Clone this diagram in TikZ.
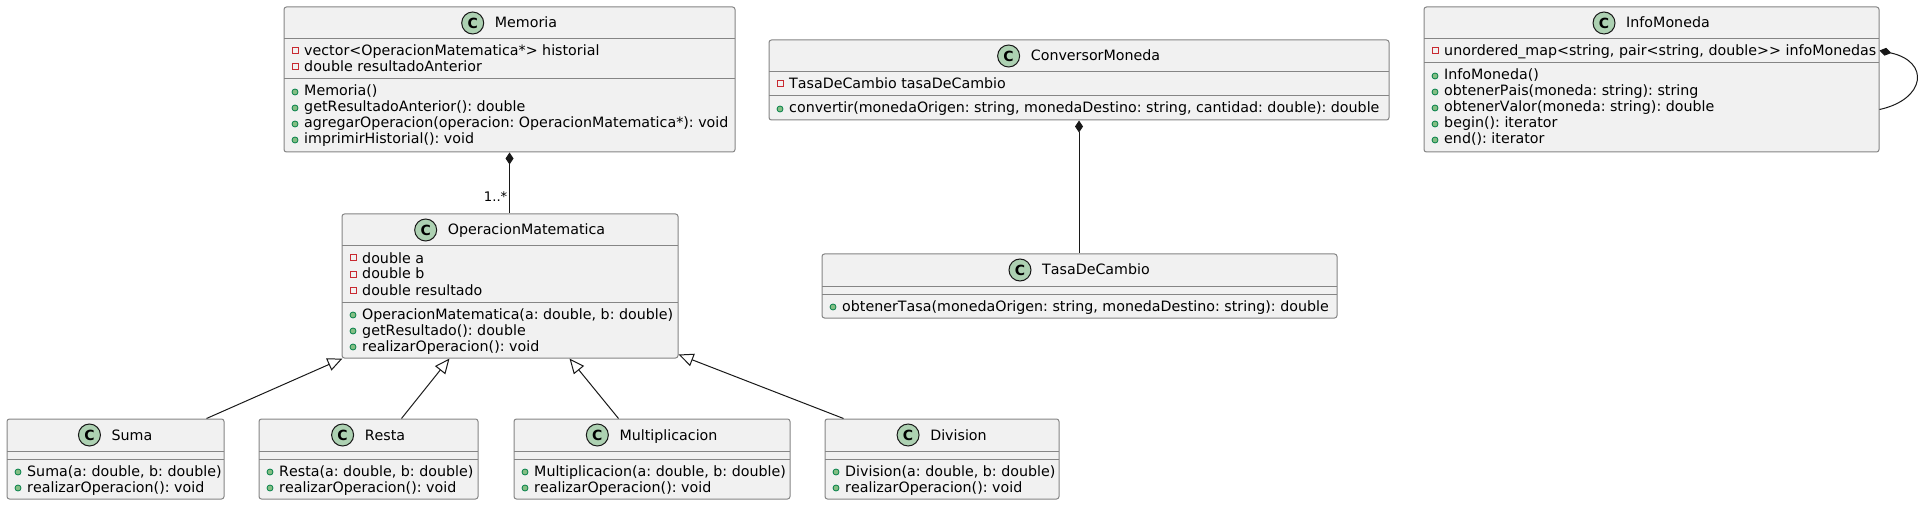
\documentclass[tikz,border=0pt]{standalone}
\usepackage{fontspec}
\setmainfont{DejaVu Sans}[Kerning=Off]
\usetikzlibrary{arrows.meta,fit,calc}
\definecolor{boxfill}{HTML}{F1F1F1}
\definecolor{boxline}{HTML}{858585}
\definecolor{iconfill}{HTML}{ADD1B2}
\definecolor{ink}{HTML}{181818}
\definecolor{privred}{HTML}{C82930}
\definecolor{pubfill}{HTML}{84BE84}
\definecolor{publine}{HTML}{038048}
\tikzset{
  classbox/.style={draw=boxline, fill=boxfill, line width=1pt, rounded corners=2.5pt, inner sep=0pt},
  sepline/.style={draw=boxline, line width=1pt},
  cicon/.style={circle, draw=ink, fill=iconfill, line width=1pt, minimum size=22pt, inner sep=0pt, font=\fontsize{14pt}{14pt}\selectfont\bfseries},
  titletext/.style={anchor=base, inner sep=0pt, font=\fontsize{14.25pt}{16pt}\selectfont\frenchspacing},
  membertext/.style={anchor=base west, inner sep=0pt, font=\fontsize{14.25pt}{16pt}\selectfont\frenchspacing},
  privicon/.style={draw=privred, line width=1pt},
  pubicon/.style={draw=publine, fill=pubfill, line width=0.8pt},
  genarrow/.style={draw=ink, line width=1pt, -{Triangle[length=15pt, width=13pt, fill=white]}},
  comparrow/.style={draw=ink, line width=1pt, {Diamond[length=12pt, width=8pt]}-},
  multlabel/.style={anchor=base east, inner sep=0pt, font=\fontsize{13.2pt}{13pt}\selectfont},
}
\newcounter{memb}
% name, x1, y1, x2, y2, separator y, title
\newcommand\umlclass[7]{%
  \node[classbox, fit={(#2,#3) (#4,#5)}] (#1) {};
  \draw[sepline] (#2,#3+32) -- (#4,#3+32);
  \draw[sepline] (#2,#6) -- (#4,#6);
  \node[titletext] (#1-title) at ({(#2+#4)/2+16.5},#3+21) {#7};
  \node[cicon] (#1-icon) at ([xshift=-22pt, yshift=5pt]#1-title.base west) {C};
}
\newcommand\privm[3]{%
  \stepcounter{memb}%
  \draw[privicon] (#1+8,#2-8) rectangle (#1+14,#2-2);
  \node[membertext] (m\themebb) at (#1+20,#2) {#3};
}
\newcommand\pubm[3]{%
  \stepcounter{memb}%
  \draw[pubicon] (#1+11,#2-4) circle[radius=3pt];
  \node[membertext] (m\themebb) at (#1+20,#2) {#3};
}
\def\themebb{\arabic{memb}}
\begin{document}
\frenchspacing
\begin{tikzpicture}[x=1pt,y=-1pt]
\useasboundingbox (0,0) rectangle (1920,505);

% Memoria
\umlclass{memoria}{284}{7}{735}{152}{79}{Memoria}
\privm{284}{56}{vector<OperacionMatematica*> historial}
\privm{284}{72}{double resultadoAnterior}
\pubm{284}{96}{Memoria()}
\pubm{284}{112}{getResultadoAnterior(): double}
\pubm{284}{128}{agregarOperacion(operacion: OperacionMatematica*): void}
\pubm{284}{144}{imprimirHistorial(): void}

% OperacionMatematica
\umlclass{opmat}{342}{214}{678}{358}{302}{OperacionMatematica}
\privm{342}{263}{double a}
\privm{342}{279}{double b}
\privm{342}{295}{double resultado}
\pubm{342}{319}{OperacionMatematica(a: double, b: double)}
\pubm{342}{335}{getResultado(): double}
\pubm{342}{351}{realizarOperacion(): void}

% ConversorMoneda
\umlclass{conv}{769}{40}{1389}{120}{96}{ConversorMoneda}
\privm{769}{89}{TasaDeCambio tasaDeCambio}
\pubm{769}{113}{convertir(monedaOrigen: string, monedaDestino: string, cantidad: double): double}

% TasaDeCambio
\umlclass{tasa}{822}{254}{1337}{318}{294}{TasaDeCambio}
\pubm{822}{311}{obtenerTasa(monedaOrigen: string, monedaDestino: string): double}

% InfoMoneda
\umlclass{info}{1424}{7}{1879}{152}{63}{InfoMoneda}
\privm{1424}{56}{unordered\_map<string, pair<string, double>\kern0pt> infoMonedas}
\pubm{1424}{80}{InfoMoneda()}
\pubm{1424}{96}{obtenerPais(moneda: string): string}
\pubm{1424}{112}{obtenerValor(moneda: string): double}
\pubm{1424}{128}{begin(): iterator}
\pubm{1424}{144}{end(): iterator}

% Subclasses
\umlclass{suma}{7}{419}{224}{499}{459}{Suma}
\pubm{7}{476}{Suma(a: double, b: double)}
\pubm{7}{492}{realizarOperacion(): void}

\umlclass{resta}{259}{419}{478}{499}{459}{Resta}
\pubm{259}{476}{Resta(a: double, b: double)}
\pubm{259}{492}{realizarOperacion(): void}

\umlclass{multiplicacion}{514}{419}{790}{499}{459}{Multiplicacion}
\pubm{514}{476}{Multiplicacion(a: double, b: double)}
\pubm{514}{492}{realizarOperacion(): void}

\umlclass{division}{825}{419}{1059}{499}{459}{Division}
\pubm{825}{476}{Division(a: double, b: double)}
\pubm{825}{492}{realizarOperacion(): void}

% Connectors
\draw[comparrow] (memoria.south) -- (memoria.south |- opmat.north);
\node[multlabel] (multlab) at ([xshift=-2pt, yshift=12pt]memoria.south |- opmat.north) {1..*};
\draw[comparrow] (conv.south) -- (conv.south |- tasa.north);
\draw[comparrow] ([yshift=-44pt]info.north east) .. controls +(51,11) and +(46,-10) .. ([yshift=-103pt]info.north east);

\draw[genarrow] ([xshift=200pt]suma.north west) -- ([xshift=1pt]opmat.south west);
\draw[genarrow] ([xshift=143pt]resta.north west) -- ([xshift=108pt]opmat.south west);
\draw[genarrow] ([xshift=105pt]multiplicacion.north west) -- ([xshift=228pt]opmat.south west);
\draw[genarrow] ([xshift=19pt]division.north west) -- ([yshift=4pt]opmat.south east);
\end{tikzpicture}
\end{document}
